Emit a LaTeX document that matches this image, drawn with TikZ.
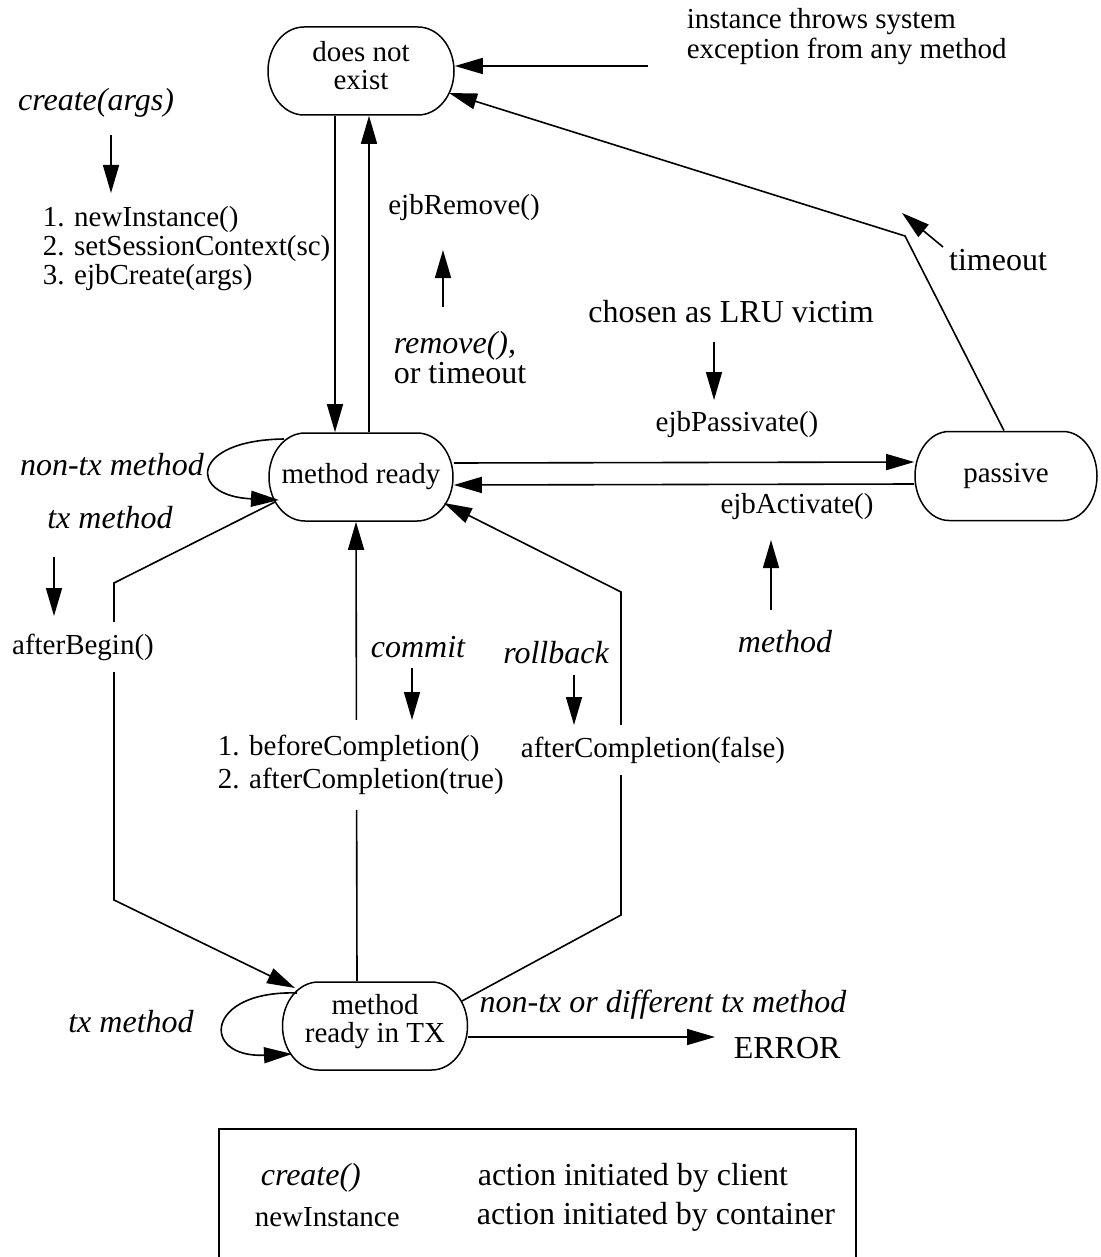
\documentclass[tikz,border=0pt]{standalone}
\usepackage{fontspec}
\setmainfont{Liberation Serif}
\usetikzlibrary{arrows.meta}

% text sizes: method names (container) and events (client)
\newcommand\smallsz{\fontsize{29pt}{28pt}\selectfont}
\newcommand\largesz{\fontsize{32pt}{28pt}\selectfont}

% stadium outline around a state node: #1 node, #2 half width, #3 half height, #4 end radius
\newcommand\stadium[4]{%
  \draw[line width=1.5pt] ([shift={(-#2+#4,#3)}]#1.center) -- ([shift={(#2-#4,#3)}]#1.center)
    arc[start angle=90,end angle=-90,x radius=#4,y radius=#3]
    -- ([shift={(-#2+#4,-#3)}]#1.center)
    arc[start angle=270,end angle=90,x radius=#4,y radius=#3] -- cycle;}

\begin{document}
\begin{tikzpicture}[x=1pt,y=1pt,line width=1.6pt,
  arr/.style={-{Triangle[length=28pt,width=16pt]}},
  state/.style={inner sep=0pt,font=\smallsz,align=center},
  cname/.style={inner sep=0pt,font=\smallsz},
  event/.style={inner sep=0pt,font=\largesz\itshape},
  note/.style={inner sep=0pt,font=\largesz},
  cut/.style={fill=white}]

\useasboundingbox (0,0) rectangle (1100,-1257);

% ---- states ----
\node[state,minimum width=186pt,minimum height=88pt,text depth=12pt] (dne) at (361,-71) {does not\\exist};
\node[state,minimum width=184pt,minimum height=88pt] (mr) at (361,-477) {method ready};
\node[state,minimum width=182pt,minimum height=89pt] (pas) at (1006,-476) {passive};
\node[state,minimum width=185pt,minimum height=88pt,text depth=16pt] (tx) at (375,-1026) {method\\ready in TX};
\stadium{dne}{93}{44}{36}
\stadium{mr}{92}{44}{36}
\stadium{pas}{91}{44.5}{34}
\stadium{tx}{92.5}{44}{36}

% ---- transitions ----
\draw[arr] ([xshift=-26pt]dne.south) -- ([xshift=-26pt]mr.north);
\draw[arr] ([xshift=8pt]mr.north) -- ([xshift=8pt]dne.south);
\coordinate (excstart) at (648,-66);
\draw[arr] (excstart) -- ([yshift=5pt]dne.east);
\draw[arr] ([xshift=-2pt]pas.north) -- (905,-236) -- ([shift={(88,-22)}]dne.center);
\draw[arr] ([yshift=14pt]mr.east) -- ([yshift=14pt]pas.west);
\draw[arr] ([yshift=-8pt]pas.west) -- ([yshift=-8pt]mr.east);
\draw[arr] ([shift={(-77,38)}]mr.center) .. controls +(-94,-1) and +(-92,4) .. ([shift={(-82,-23)}]mr.center);
\draw[arr] ([shift={(-86,-25)}]mr.center) -- (114,-583) -- (114,-900) -- ([shift={(-80,38)}]tx.center);
\draw[arr] ([xshift=-18pt]tx.north) -- ([xshift=-5pt]mr.south);
\draw[arr] ([shift={(87,25)}]tx.center) -- (621,-915) -- (621,-592) -- ([shift={(83,-26)}]mr.center);
\draw[arr] ([shift={(-78,33)}]tx.center) .. controls +(-92,3) and +(-92,-4) .. ([shift={(-83,-28)}]tx.center);

% ---- labels ----
\node[event] (create) at (96,-103) {create(args)};
\node[cname,align=left,anchor=west,font=\fontsize{29pt}{29pt}\selectfont] (init) at (42,-249)
  {1. newInstance()\\2. setSessionContext(sc)\\3. ejbCreate(args)};
\node[cname] (ejbrm) at (464,-208) {ejbRemove()};
\node[note,align=left,anchor=west,font=\fontsize{32pt}{30pt}\selectfont] (rmev) at (393,-358) {{\itshape remove(),}\\or timeout};
\node[cname,align=left,anchor=west,font=\fontsize{29pt}{30pt}\selectfont] (exc) at (686,-37)
  {instance throws system\\exception from any method};
\node[note] (lru) at (731,-312) {chosen as LRU victim};
\node[note] (tmo) at (998,-260) {timeout};
\node[cname] (passv) at (737,-425) {ejbPassivate()};
\node[cname] (activ) at (797,-507) {ejbActivate()};
\node[event] (meth) at (785,-642) {method};
\node[event] (nontx) at (112,-465) {non-tx method};
\node[event] (txm) at (110,-518) {tx method};
\node[cname,cut,inner ysep=12pt] (ab) at (83,-647) {afterBegin()};
\node[event] (commit) at (418,-647) {commit};
\node[event] (rollback) at (556,-653) {rollback};
\node[cname,cut,align=left,anchor=west,inner ysep=15pt,font=\fontsize{29pt}{33pt}\selectfont] (bc) at (217,-765)
  {1. beforeCompletion()\\2. afterCompletion(true)};
\node[cname,cut,inner ysep=12pt] (acf) at (653,-750) {afterCompletion(false)};
\node[event] (txm2) at (131,-1022) {tx method};
\node[event] (diff) at (663,-1005) {non-tx or different tx method};
\node[note,anchor=west] (err) at (733,-1048) {ERROR};
\draw[arr] ([yshift=-11pt]tx.east) -- ([xshift=-18pt,yshift=11pt]err.west);

% ---- small cause/effect arrows ----
\coordinate (a1s) at (111,-135);  \coordinate (a1e) at (111,-193);
\coordinate (a2s) at (443,-307);  \coordinate (a2e) at (443,-250);
\coordinate (a3s) at (714,-342);  \coordinate (a3e) at (714,-400);
\coordinate (a4s) at (943,-247);  \coordinate (a4e) at (902,-213);
\coordinate (a5s) at (771,-610);  \coordinate (a5e) at (771,-540);
\coordinate (a6s) at (54,-557);   \coordinate (a6e) at (54,-616);
\coordinate (a7s) at (412,-668);  \coordinate (a7e) at (412,-720);
\coordinate (a8s) at (574,-675);  \coordinate (a8e) at (574,-725);
\foreach \i in {1,...,8} \draw[arr] (a\i s) -- (a\i e);

% ---- legend ----
\draw[line width=1.5pt] (219,-1262) |- (856,-1129) -- (856,-1262);
\node[event,anchor=west] (lc) at (260,-1178) {create()};
\node[cname,anchor=west] (lcn) at (254,-1217) {newInstance};
\node[note,anchor=west] (lct) at (477,-1178) {action initiated by client};
\node[note,anchor=west] (lcc) at (476,-1217) {action initiated by container};
\end{tikzpicture}
\end{document}
